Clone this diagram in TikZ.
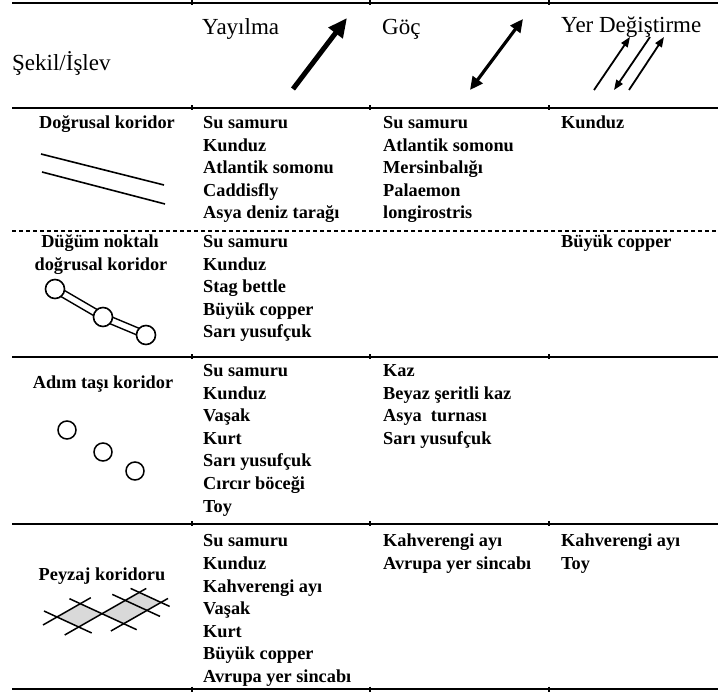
\documentclass[tikz,border=0pt]{standalone}
\usepackage{fontspec}
\setmainfont{Liberation Serif}
\usetikzlibrary{arrows.meta,calc}
\tikzset{
  body/.style={font=\fontsize{18.3}{22.5}\selectfont\bfseries, inner sep=0pt, anchor=base west},
  lab/.style={font=\fontsize{18.3}{22.5}\selectfont\bfseries, inner sep=0pt, anchor=base},
  head/.style={font=\fontsize{23}{27}\selectfont, inner sep=0pt, anchor=base west},
  toprule/.style={line width=2.5pt},
  midrule/.style={line width=2pt},
  dashrule/.style={line width=1.4pt, dash pattern=on 4pt off 3pt},
  tick/.style={line width=1.2pt},
  icon/.style={line width=1.6pt},
  ring/.style={circle, draw, line width=1.6pt, fill=white, inner sep=0pt, minimum size=19pt},
  bigarrow/.style={line width=5pt, -{Triangle[length=19pt,width=17pt]}},
  dblarrow/.style={line width=3.2pt, {Triangle[length=13pt,width=12pt]}-{Triangle[length=13pt,width=12pt]}},
  thinarrow/.style={line width=1.8pt, -{Triangle[length=10pt,width=7.5pt]}},
  cellfill/.style={fill=gray!30},
}
\newcommand{\mycell}[4]{%
  \foreach \t [count=\i] in {#4} {\node[body] (#1-\i) at (#2,{#3+22.5*(\i-1)}) {\t};}}
\begin{document}
\begin{tikzpicture}[x=1pt,y=-1pt]
\useasboundingbox (0,0) rectangle (718,692);

% rules
\draw[toprule] (12,3) -- (718,3);
\draw[midrule] (12,108) -- (718,108);
\draw[dashrule] (12,231) -- (718,231);
\draw[midrule] (12,357) -- (718,357);
\draw[midrule] (12,524) -- (718,524);
\draw[midrule] (12,689) -- (718,689);
\foreach \yy in {3,108,357,524,689}
  \foreach \xx in {192,370,549}
    \draw[tick] (\xx,\yy-2.5) -- (\xx,\yy+2.5);

% header
\node[head] (hsekil) at (12,71) {Şekil/İşlev};
\node[head] (hyay) at (202,35) {Yayılma};
\node[head] (hgoc) at (382,35) {Göç};
\node[head] (hyer) at (561,33) {Yer Değiştirme};

\coordinate (ya1) at (293,89); \coordinate (ya2) at (347,18);
\draw[bigarrow] (ya1) -- (ya2);
\coordinate (go1) at (470,90); \coordinate (go2) at (523,19);
\draw[dblarrow] (go1) -- (go2);
\coordinate (ye1a) at (594,90); \coordinate (ye1b) at (630,37);
\coordinate (ye2a) at (650,37); \coordinate (ye2b) at (614,90);
\coordinate (ye3a) at (629,90); \coordinate (ye3b) at (664,37);
\draw[thinarrow] (ye1a) -- (ye1b);
\draw[thinarrow] (ye2a) -- (ye2b);
\draw[thinarrow] (ye3a) -- (ye3b);

% column 0 labels
\node[lab] (l1) at (107,129) {Doğrusal koridor};
\node[lab] (l2a) at (100,248) {Düğüm noktalı};
\node[lab] (l2b) at (101,270.5) {doğrusal koridor};
\node[lab] (l3) at (103,389) {Adım taşı koridor};
\node[lab] (l4) at (102,580) {Peyzaj koridoru};

% icon 1: linear corridor
\coordinate (d1a) at (41,154); \coordinate (d1b) at (164,185);
\coordinate (d2a) at (42,172); \coordinate (d2b) at (165,204);
\draw[icon] (d1a) -- (d1b);
\draw[icon] (d2a) -- (d2b);

% icon 2: nodes on linear corridor
\coordinate (k1) at (55,289); \coordinate (k2) at (103,317); \coordinate (k3) at (146,335);
\foreach \p/\q in {k1/k2,k2/k3}{
  \draw[line width=1.4pt] ($(\p)!3.5pt!90:(\q)$) -- ($(\q)!3.5pt!-90:(\p)$);
  \draw[line width=1.4pt] ($(\p)!3.5pt!-90:(\q)$) -- ($(\q)!3.5pt!90:(\p)$);
}
\node[ring] (c1) at (k1) {};
\node[ring] (c2) at (k2) {};
\node[ring] (c3) at (k3) {};

% icon 3: stepping stones
\node[ring, minimum size=18pt, line width=1.5pt] (s1) at (67,430) {};
\node[ring, minimum size=18pt, line width=1.5pt] (s2) at (103,452) {};
\node[ring, minimum size=18pt, line width=1.5pt] (s3) at (135,471) {};

% icon 4: landscape corridor
\begin{scope}[shift={(57,617)}, x={(21.7pt,-10pt)}, y={(23.3pt,13.3pt)}]
  \fill[cellfill] (0,0) -- (1,0) -- (1,1) -- (0,1) -- cycle;
  \fill[cellfill] (1,1) -- (2,1) -- (2,2) -- (1,2) -- cycle;
  \fill[cellfill] (1,2) -- (2,2) -- (2,2.6) -- (1,2.6) -- cycle;
  \draw[line width=1.5pt] (-0.6,0) -- (1.6,0);
  \draw[line width=1.5pt] (-0.5,1) -- (2.6,1);
  \draw[line width=1.5pt] (0.4,2) -- (2.6,2);
  \draw[line width=1.5pt] (0.6,2.6) -- (2.4,2.6);
  \draw[line width=1.5pt] (0,-0.6) -- (0,1.45);
  \draw[line width=1.5pt] (1,-0.6) -- (1,2.9);
  \draw[line width=1.5pt] (2,0.45) -- (2,2.9);
\end{scope}

% body cells
\mycell{a1}{203}{129}{Su samuru,Kunduz,Atlantik somonu,Caddisfly,Asya deniz tarağı}
\mycell{b1}{383}{129}{Su samuru,Atlantik somonu,Mersinbalığı,Palaemon,longirostris}
\mycell{c1}{561}{129}{Kunduz}
\mycell{a2}{203}{248}{Su samuru,Kunduz,Stag bettle,Büyük copper,Sarı yusufçuk}
\mycell{c2}{561}{248}{Büyük copper}
\mycell{a3}{203}{377}{Su samuru,Kunduz,Vaşak,Kurt,Sarı yusufçuk,Cırcır böceği,Toy}
\mycell{b3}{383}{377}{Kaz,Beyaz şeritli kaz,Asya~ turnası,Sarı yusufçuk}
\mycell{a4}{203}{547}{Su samuru,Kunduz,Kahverengi ayı,Vaşak,Kurt,Büyük copper,Avrupa yer sincabı}
\mycell{b4}{383}{547}{Kahverengi ayı,Avrupa yer sincabı}
\mycell{c4}{561}{547}{Kahverengi ayı,Toy}
\end{tikzpicture}
\end{document}
